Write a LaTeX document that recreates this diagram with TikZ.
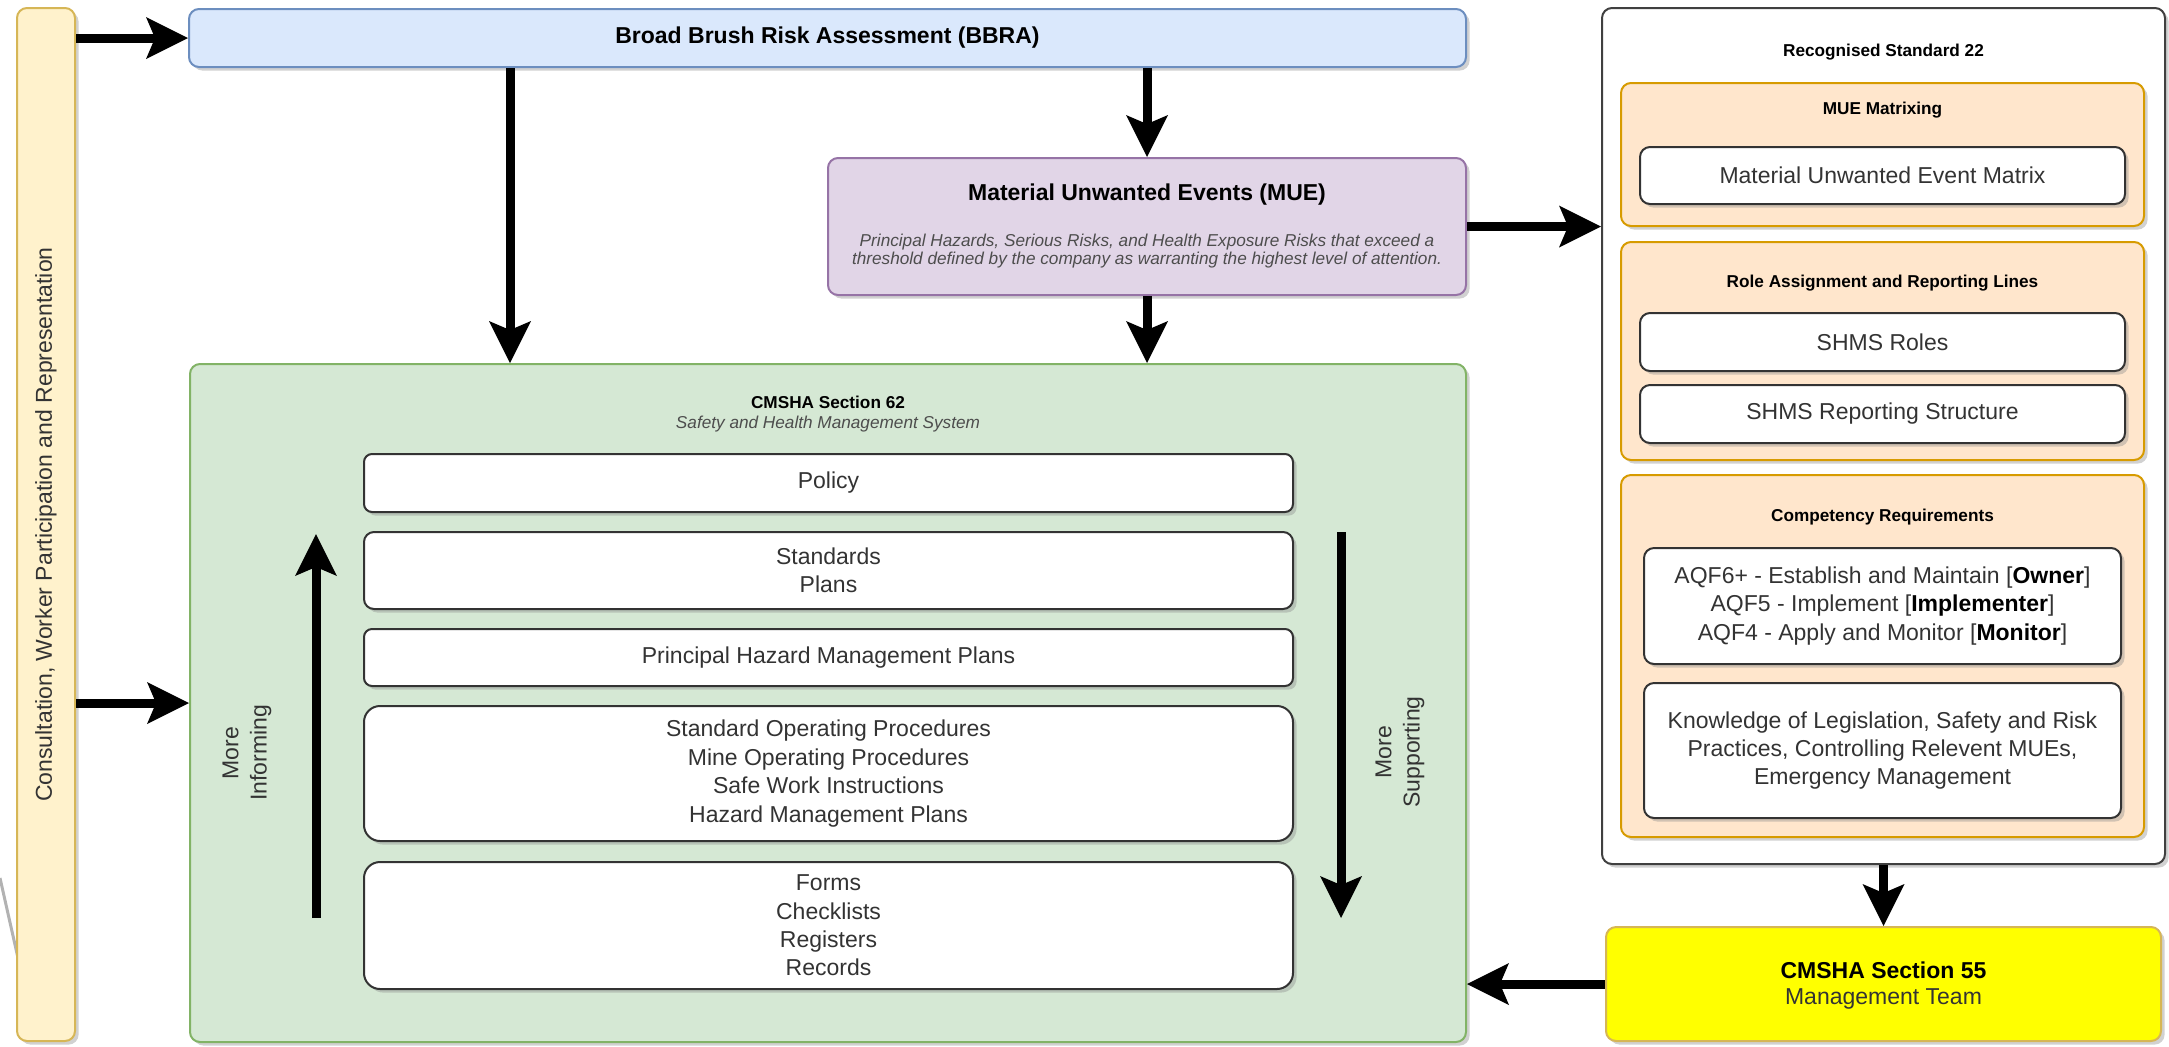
\documentclass[tikz,border=0pt]{standalone}
\usepackage{fontspec}
\setmainfont{Liberation Sans}
\usetikzlibrary{arrows.meta,shadows}
\definecolor{txt}{HTML}{333333}
\definecolor{italtxt}{HTML}{4D4D4D}
\definecolor{barfill}{HTML}{FFF2CC}
\definecolor{barline}{HTML}{D6B656}
\definecolor{bluefill}{HTML}{DAE8FC}
\definecolor{blueline}{HTML}{6C8EBF}
\definecolor{purpfill}{HTML}{E1D5E7}
\definecolor{purpline}{HTML}{9673A6}
\definecolor{greenfill}{HTML}{D5E8D4}
\definecolor{greenline}{HTML}{82B366}
\definecolor{orfill}{HTML}{FFE6CC}
\definecolor{orline}{HTML}{D79B00}
\definecolor{yelfill}{HTML}{FFFF00}
\definecolor{yelline}{HTML}{D6B656}
\newcommand\fbody{\fontsize{11.5}{14.2}\selectfont}
\newcommand\fsmall{\fontsize{8.6}{10}\selectfont}
\newcommand\fital{\fontsize{8.6}{9.2}\selectfont}
\begin{document}
\begin{tikzpicture}[x=0.5pt,y=-0.5pt,
  panel/.style={draw, rounded corners=5pt, line width=1pt,
    drop shadow={shadow xshift=1.8pt, shadow yshift=-1.8pt, fill=black!45, opacity=0.4}},
  wbox/.style={panel, fill=white, draw=black!80, align=center, font=\fbody, text=txt},
  obox/.style={panel, fill=orfill, draw=orline},
  ttl/.style={font=\fsmall\bfseries, text=black, align=center},
  lbl/.style={font=\fbody, text=txt, align=center},
  arr/.style={line width=4.5pt, draw=black,
    -{Stealth[length=21pt, width=21pt, inset=4.5pt, line width=0pt]}}
]
\useasboundingbox (0,0) rectangle (2169,1046);

% faint grey line behind the side bar
\draw[black!30, line width=1.5pt] (0,878) -- (18,958);

% side bar
\node[panel, fill=barfill, draw=barline, minimum width=29pt, minimum height=516.5pt] (bar) at (46,524.5) {};
\node[lbl, rotate=90] (bartext) at (bar.center) {Consultation, Worker Participation and Representation};

% BBRA
\node[panel, fill=bluefill, draw=blueline, minimum width=638.5pt, minimum height=29pt] (bbra) at (827.5,38) {};
\node[font=\fbody\bfseries, text=black] (bbratext) at (bbra.center) {Broad Brush Risk Assessment (BBRA)};

% MUE
\node[panel, fill=purpfill, draw=purpline, minimum width=319pt, minimum height=68.5pt] (mue) at (1147,226.5) {};
\node[font=\fbody\bfseries, text=black] (muetitle) at (1147,195) {Material Unwanted Events (MUE)};
\node[font=\fital\itshape, text=italtxt, align=center] (muetext) at (1147,251) {Principal Hazards, Serious Risks, and Health Exposure Risks that exceed a\\threshold defined by the company as warranting the highest level of attention.};

% Green SHMS
\node[panel, fill=greenfill, draw=greenline, minimum width=638pt, minimum height=339pt] (green) at (828,703) {};
\node[ttl] (gtitle) at (828,402) {CMSHA Section 62};
\node[font=\fsmall\itshape, text=italtxt] (gsub) at (828,424) {Safety and Health Management System};

\node[wbox, rounded corners=4pt, minimum width=464.5pt, minimum height=29pt] (policy) at (828.5,483) {Policy};
\node[wbox, rounded corners=5pt, minimum width=464.5pt, minimum height=38.5pt] (std) at (828.5,570.5) {Standards\\Plans};
\node[wbox, rounded corners=4pt, minimum width=464.5pt, minimum height=28.5pt] (phmp) at (828.5,657.5) {Principal Hazard Management Plans};
\node[wbox, rounded corners=8pt, minimum width=464.5pt, minimum height=67.5pt] (sop) at (828.5,773.5) {Standard Operating Procedures\\Mine Operating Procedures\\Safe Work Instructions\\Hazard Management Plans};
\node[wbox, rounded corners=8pt, minimum width=464.5pt, minimum height=63.5pt] (forms) at (828.5,925.5) {Forms\\Checklists\\Registers\\Records};

\coordinate (inf0) at (316,918);
\coordinate (inf1) at (316,534);
\coordinate (sup0) at (1341,532);
\coordinate (sup1) at (1341,918);
\node[lbl, rotate=90] (moreinf) at (247,753) {More\\Informing};
\node[lbl, rotate=90] (moresup) at (1400,752) {More\\Supporting};

% Recognised Standard 22
\node[panel, fill=white, draw=black!75, minimum width=281.5pt, minimum height=428pt] (rs) at (1883.5,436) {};
\node[ttl] (rstitle) at (1883.5,52) {Recognised Standard 22};

\node[obox, minimum width=261.5pt, minimum height=71.5pt] (om) at (1882.5,154.5) {};
\node[ttl] (omtitle) at (1882.5,110) {MUE Matrixing};
\node[wbox, minimum width=242.5pt, minimum height=28.5pt] (matrix) at (1882.5,175.5) {Material Unwanted Event Matrix};

\node[obox, minimum width=261.5pt, minimum height=109pt] (orole) at (1882.5,351) {};
\node[ttl] (oroletitle) at (1882.5,283) {Role Assignment and Reporting Lines};
\node[wbox, minimum width=242.5pt, minimum height=29pt] (roles) at (1882.5,342) {SHMS Roles};
\node[wbox, minimum width=242.5pt, minimum height=29pt] (report) at (1882.5,414) {SHMS Reporting Structure};

\node[obox, minimum width=261.5pt, minimum height=181pt] (ocomp) at (1882.5,656) {};
\node[ttl] (ocomptitle) at (1882.5,517) {Competency Requirements};
\node[wbox, minimum width=238.5pt, minimum height=58pt] (aqf) at (1882.5,606) {AQF6+ - Establish and Maintain [\textbf{\color{black}Owner}]\\AQF5 - Implement [\textbf{\color{black}Implementer}]\\AQF4 - Apply and Monitor [\textbf{\color{black}Monitor}]};
\node[wbox, minimum width=238.5pt, minimum height=67.5pt] (know) at (1882.5,750.5) {Knowledge of Legislation, Safety and Risk\\Practices, Controlling Relevent MUEs,\\Emergency Management};

% Section 55
\node[panel, fill=yelfill, draw=yelline, minimum width=277.5pt, minimum height=57pt] (s55) at (1883.5,984) {};
\node[font=\fbody\bfseries, text=black] (s55t) at (1883.5,970) {CMSHA Section 55};
\node[lbl] (s55s) at (1883.5,999) {Management Team};

% connectors
\coordinate (c1) at (510,0);
\draw[arr] (bar.east |- bbra.west) -- (bbra.west);
\draw[arr] (bar.east |- green.west) -- (green.west);
\draw[arr] (bbra.south -| c1) -- (green.north -| c1);
\draw[arr] (bbra.south -| mue.north) -- (mue.north);
\draw[arr] (mue.south) -- (green.north -| mue.south);
\draw[arr] (mue.east) -- (rs.west |- mue.east);
\draw[arr] (rs.south) -- (s55.north);
\draw[arr] (s55.west) -- (green.east |- s55.west);
\draw[arr] (inf0) -- (inf1);
\draw[arr] (sup0) -- (sup1);
\end{tikzpicture}
\end{document}
